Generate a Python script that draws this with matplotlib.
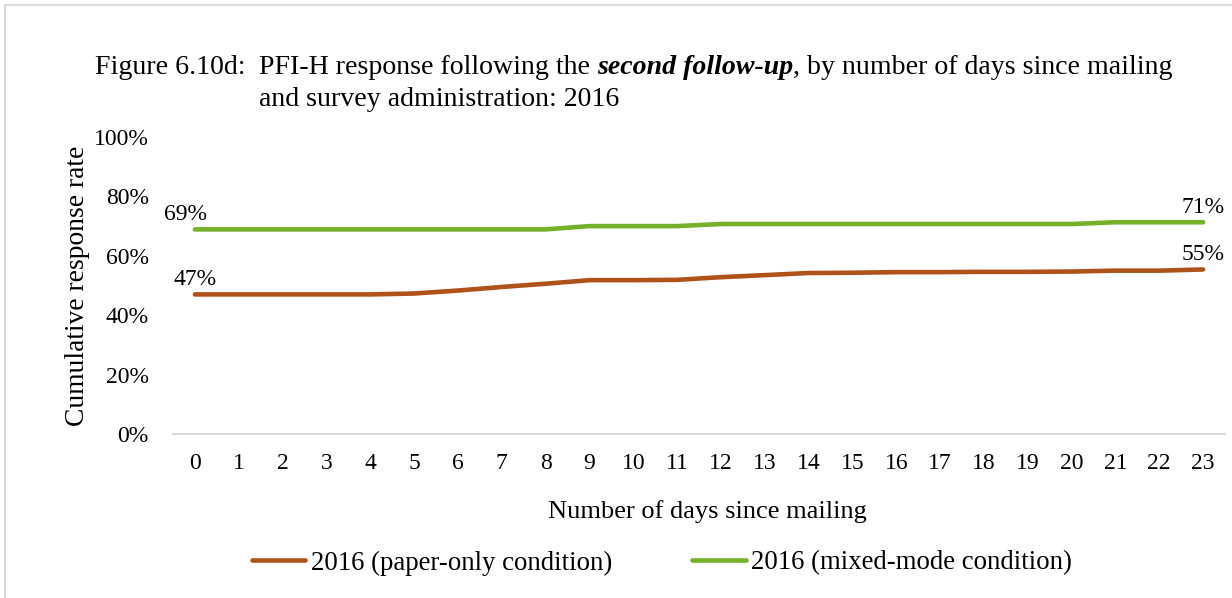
import matplotlib
matplotlib.use("Agg")
import matplotlib.pyplot as plt
from matplotlib.patches import Rectangle
from matplotlib.ticker import PercentFormatter

# Days since mailing and cumulative response rates (%)
days = list(range(24))
paper_only = [47.0, 47.0, 47.0, 47.0, 47.0, 47.3, 48.3, 49.5, 50.6, 51.8,
              51.8, 51.9, 52.8, 53.5, 54.2, 54.3, 54.5, 54.5, 54.6, 54.6,
              54.7, 55.0, 55.0, 55.4]
mixed_mode = [68.9, 68.9, 68.9, 68.9, 68.9, 68.9, 68.9, 68.9, 68.9, 70.0,
              70.0, 70.0, 70.7, 70.7, 70.7, 70.7, 70.7, 70.7, 70.7, 70.7,
              70.7, 71.3, 71.3, 71.3]
series_names = ["2016 (paper-only condition)", "2016 (mixed-mode condition)"]
y_ticks = [0, 20, 40, 60, 80, 100]

ORANGE = "#AE5219"
GREEN = "#74B02A"
SERIF = "Liberation Serif"

plt.rcParams["font.family"] = SERIF

W, H = 1232, 598
fig = plt.figure(figsize=(W / 100, H / 100), dpi=100)

# outer chart border
fig.patches.append(Rectangle((5 / W, -0.1), 1.2, (H - 5) / H + 0.1,
                             transform=fig.transFigure, fill=False,
                             edgecolor="#D9D9D9", linewidth=1.5))

ax = fig.add_axes([173 / W, (H - 434) / H, (1225 - 173) / W, (434 - 137) / H])

ax.plot(days, paper_only, color=ORANGE, lw=3.3, solid_capstyle="round",
        label=series_names[0])
ax.plot(days, mixed_mode, color=GREEN, lw=3.3, solid_capstyle="round",
        label=series_names[1])

ax.set_xlim(-0.5, 23.5)
ax.set_ylim(0, 100)
ax.set_xticks(days)
ax.set_yticks(y_ticks)
ax.yaxis.set_major_formatter(PercentFormatter(decimals=0))
ax.tick_params(length=0, labelsize=17, colors="black")
ax.tick_params(axis="x", pad=13.5)
ax.tick_params(axis="y", pad=17.5)
for side in ("top", "right", "left"):
    ax.spines[side].set_visible(False)
ax.spines["bottom"].set_color("#D9D9D9")
ax.spines["bottom"].set_linewidth(1.5)

ax.set_ylabel("Cumulative response rate", fontsize=19.8, labelpad=3)
ax.set_xlabel("Number of days since mailing", fontsize=19)
ax.xaxis.set_label_coords((707 - 173) / (1225 - 173), -0.222)

# end-point value labels
lab_kw = dict(fontsize=17, ha="center", va="bottom", textcoords="offset points")
ax.annotate(f"{mixed_mode[0]:.0f}%", (days[0], mixed_mode[0]), xytext=(-7, 3), **lab_kw)
ax.annotate(f"{paper_only[0]:.0f}%", (days[0], paper_only[0]), xytext=(0, 3), **lab_kw)
ax.annotate(f"{mixed_mode[-1]:.0f}%", (days[-1], mixed_mode[-1]), xytext=(0, 3), **lab_kw)
ax.annotate(f"{paper_only[-1]:.0f}%", (days[-1], paper_only[-1]), xytext=(0, 3), **lab_kw)

fig.legend(loc="center", bbox_to_anchor=(662 / W, 1 - 563 / H), ncol=2,
           frameon=False, fontsize=19.3, handlelength=2.0, handletextpad=0.2,
           columnspacing=3.0)

# title with mixed styling, laid out piece by piece
fig.canvas.draw()
renderer = fig.canvas.get_renderer()
tsize = 20.1
y1 = 1 - 68 / H
y2 = 1 - 100 / H
fig.text(95 / W, y1, "Figure 6.10d:", fontsize=tsize, va="center")
x = 259 / W
for piece, style, weight in [("PFI-H response following the ", "normal", "normal"),
                             ("second follow-up", "italic", "bold"),
                             (", by number of days since mailing", "normal", "normal")]:
    t = fig.text(x, y1, piece, fontsize=tsize, va="center",
                 fontstyle=style, fontweight=weight)
    bb = t.get_window_extent(renderer)
    x = bb.x1 / W
fig.text(259 / W, y2, "and survey administration: 2016", fontsize=tsize, va="center")

fig.savefig("out.png", dpi=100)
